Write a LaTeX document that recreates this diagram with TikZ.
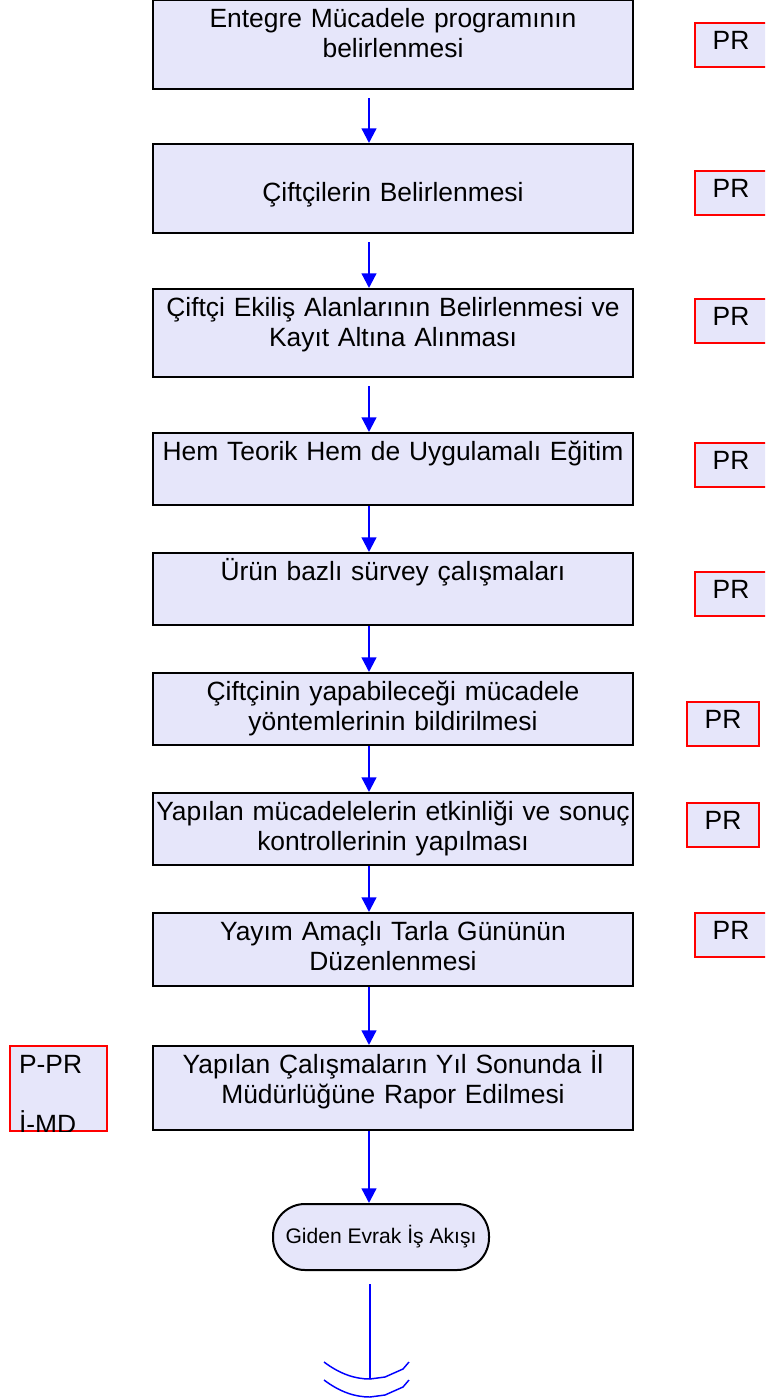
\documentclass[tikz,border=0pt]{standalone}
\usepackage{fontspec}
\setmainfont{Liberation Sans}
\usepackage{tikz}
\usetikzlibrary{arrows.meta}
\definecolor{boxfill}{RGB}{230,230,250}
\tikzset{
	stepbox/.style={draw=black,line width=1.5pt,fill=boxfill,text width=360pt,align=center,inner sep=0pt,text height=20.25pt,anchor=north,font=\fontsize{19.8pt}{22.5pt}\selectfont},
	prbox/.style={draw=red,line width=1.5pt,fill=boxfill,minimum width=54pt,inner sep=0pt,text height=19.5pt,text depth=13.5pt,anchor=north west,font=\fontsize{19.8pt}{22.5pt}\selectfont},
	notebox/.style={draw=red,line width=1.5pt,fill=boxfill,text width=59.25pt,inner xsep=6.75pt,inner ysep=0pt,align=left,text height=20.25pt,text depth=43.5pt,anchor=north west,font=\fontsize{19.8pt}{22.5pt}\selectfont},
	endbox/.style={draw=black,line width=1.5pt,fill=boxfill,minimum width=162pt,minimum height=49.5pt,rounded corners=24pt,inner sep=0pt,font=\fontsize{15.8pt}{18pt}\selectfont},
	flow/.style={blue,line width=1.7pt,-{Triangle[length=11pt,width=11pt]}},
	wire/.style={blue,line width=1.1pt}
}
\begin{document}
\begin{tikzpicture}
	[x=.75pt,y=-.75pt]
	\useasboundingbox (0,0) rectangle (765,1400);
	\clip (0,0) rectangle (765,1400);
	\node[stepbox,text depth=46.5pt] (n1) at (393,-1) {Entegre Mücadele programının\\belirlenmesi};
	\node[stepbox,text height=42.75pt,text depth=24pt] (n2) at (393,143) {Çiftçilerin Belirlenmesi};
	\node[stepbox,text depth=45.75pt] (n3) at (393,288) {Çiftçi Ekiliş Alanlarının Belirlenmesi ve\\Kayıt Altına Alınması};
	\node[stepbox,text depth=33.75pt] (n4) at (393,432) {Hem Teorik Hem de Uygulamalı Eğitim};
	\node[stepbox,text depth=33.75pt] (n5) at (393,552) {Ürün bazlı sürvey çalışmaları};
	\node[stepbox,text depth=33.75pt] (n6) at (393,672) {Çiftçinin yapabileceği mücadele\\yöntemlerinin bildirilmesi};
	\node[stepbox,text depth=33.75pt] (n7) at (393,792) {Yapılan mücadelelerin etkinliği ve sonuç\\kontrollerinin yapılması};
	\node[stepbox,text depth=34.5pt] (n8) at (393,912) {Yayım Amaçlı Tarla Gününün\\Düzenlenmesi};
	\node[stepbox,text depth=42.75pt] (n9) at (393,1045) {Yapılan Çalışmaların Yıl Sonunda İl\\Müdürlüğüne Rapor Edilmesi};
	
	\node[prbox] (r1) at (694,22) {PR};
	\node[prbox] (r2) at (694,170) {PR};
	\node[prbox] (r3) at (694,298) {PR};
	\node[prbox] (r4) at (694,442) {PR};
	\node[prbox] (r5) at (694,571) {PR};
	\node[prbox] (r6) at (686,701) {PR};
	\node[prbox] (r7) at (686,802) {PR};
	\node[prbox] (r8) at (694,912) {PR};
	\begin{scope}
	\clip (0,1040) rectangle (120,1131);
	\node[notebox] (r9) at (9,1045) {P-PR\\[22.5pt]İ-MD};
	\end{scope}
	
	\node[endbox] (t) at (381,1237) {Giden Evrak İş Akışı};
	
	\foreach \from/\to in {n1/n2,n2/n3,n3/n4}
	\draw[flow,shorten <=6pt] ([xshift=-18pt]\from.south) -- ([xshift=-18pt]\to.north);
	\foreach \from/\to in {n4/n5,n5/n6,n6/n7,n7/n8,n8/n9}
	\draw[flow] ([xshift=-18pt]\from.south) -- ([xshift=-18pt]\to.north);
	\draw[flow] ([xshift=-18pt]n9.south) -- ([xshift=-18pt]n9.south |- t.north);
	
	\coordinate (e) at (370,1379);
	\draw[wire] ([yshift=-9.75pt]t.south -| e) -- (e);
	\foreach \d in {0,18}
	\draw[wire] (324,1362+\d) .. controls (340,1374+\d) and (355,1379+\d) .. (370,1379+\d) -- (385,1377+\d) -- (403,1369+\d) -- (409,1362+\d);
\end{tikzpicture}
\end{document}
